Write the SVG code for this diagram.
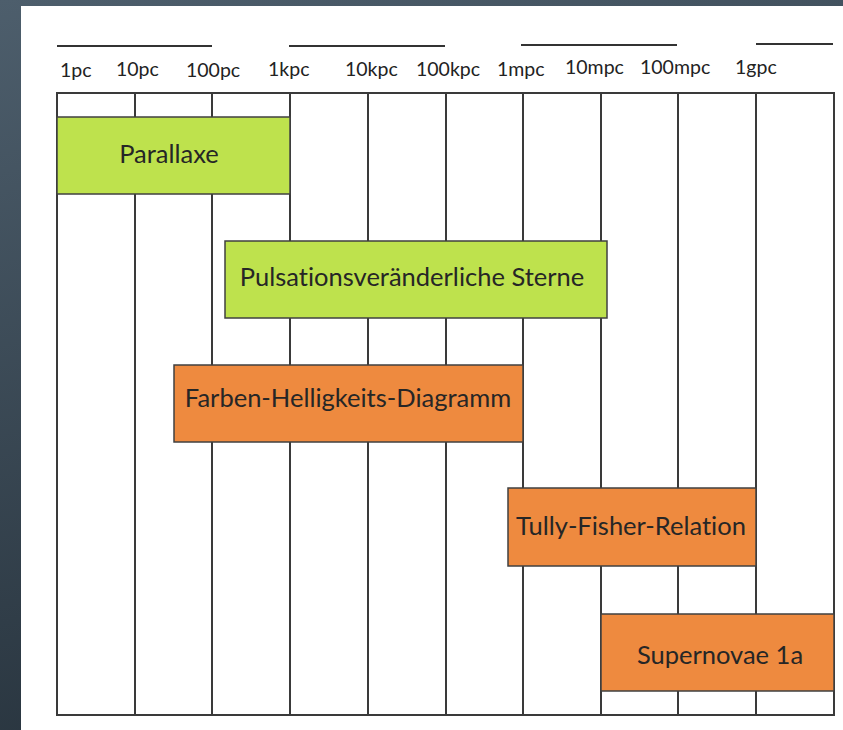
<svg xmlns="http://www.w3.org/2000/svg" width="843" height="730" viewBox="0 0 843 730">
<defs>
<linearGradient id="bg" x1="0" y1="0" x2="0.3" y2="1">
<stop offset="0" stop-color="#4d5e6c"/>
<stop offset="1" stop-color="#28343e"/>
</linearGradient>
<style>
.grid{stroke:#3a3a3a;stroke-width:2;fill:none}
.top{stroke:#333;stroke-width:2}
.lbl{font-family:Lato,"Open Sans","Liberation Sans",sans-serif;font-size:19.5px;fill:#222}
.box{stroke:#404040;stroke-width:1.5}
.green{fill:#bee24d}
.orange{fill:#ee8a3f}
.bt{font-family:Lato,"Open Sans","Liberation Sans",sans-serif;font-size:25.5px;fill:#262626;text-anchor:middle;font-variant-ligatures:none}
</style>
</defs>
<rect x="0" y="0" width="843" height="730" fill="url(#bg)"/>
<rect x="21" y="6" width="822" height="724" fill="#ffffff"/>
<g id="scale">
<line class="top" x1="57" y1="46" x2="212" y2="46"/>
<line class="top" x1="289" y1="46" x2="445" y2="46"/>
<line class="top" x1="521" y1="45" x2="677" y2="45"/>
<line class="top" x1="756" y1="44" x2="833" y2="44"/>
<text class="lbl" x="60" y="77">1pc</text>
<text class="lbl" x="116" y="76">10pc</text>
<text class="lbl" x="186" y="77">100pc</text>
<text class="lbl" x="268" y="76">1kpc</text>
<text class="lbl" x="345" y="76">10kpc</text>
<text class="lbl" x="416" y="76">100kpc</text>
<text class="lbl" x="497" y="76">1mpc</text>
<text class="lbl" x="565" y="74">10mpc</text>
<text class="lbl" x="640" y="74">100mpc</text>
<text class="lbl" x="735" y="74">1gpc</text>
</g>
<g id="grid">
<rect class="grid" x="57" y="93" width="777" height="622"/>
<line class="grid" x1="135" y1="93" x2="135" y2="715"/>
<line class="grid" x1="212" y1="93" x2="212" y2="715"/>
<line class="grid" x1="290" y1="93" x2="290" y2="715"/>
<line class="grid" x1="368" y1="93" x2="368" y2="715"/>
<line class="grid" x1="446" y1="93" x2="446" y2="715"/>
<line class="grid" x1="523" y1="93" x2="523" y2="715"/>
<line class="grid" x1="601" y1="93" x2="601" y2="715"/>
<line class="grid" x1="678" y1="93" x2="678" y2="715"/>
<line class="grid" x1="756" y1="93" x2="756" y2="715"/>
</g>
<g id="parallaxe">
<rect class="box green" x="57" y="117" width="233" height="77"/>
<text class="bt" x="169" y="163">Parallaxe</text>
</g>
<g id="pulsation">
<rect class="box green" x="225" y="241" width="382" height="77"/>
<text class="bt" x="412" y="286">Pulsationsveränderliche Sterne</text>
</g>
<g id="farben">
<rect class="box orange" x="174" y="365" width="349" height="77"/>
<text class="bt" x="348" y="407">Farben-Helligkeits-Diagramm</text>
</g>
<g id="tully">
<rect class="box orange" x="508" y="488" width="248" height="78"/>
<text class="bt" x="631" y="535">Tully-Fisher-Relation</text>
</g>
<g id="supernovae">
<rect class="box orange" x="601" y="614" width="233" height="77"/>
<text class="bt" x="720" y="664">Supernovae 1a</text>
</g>
</svg>
